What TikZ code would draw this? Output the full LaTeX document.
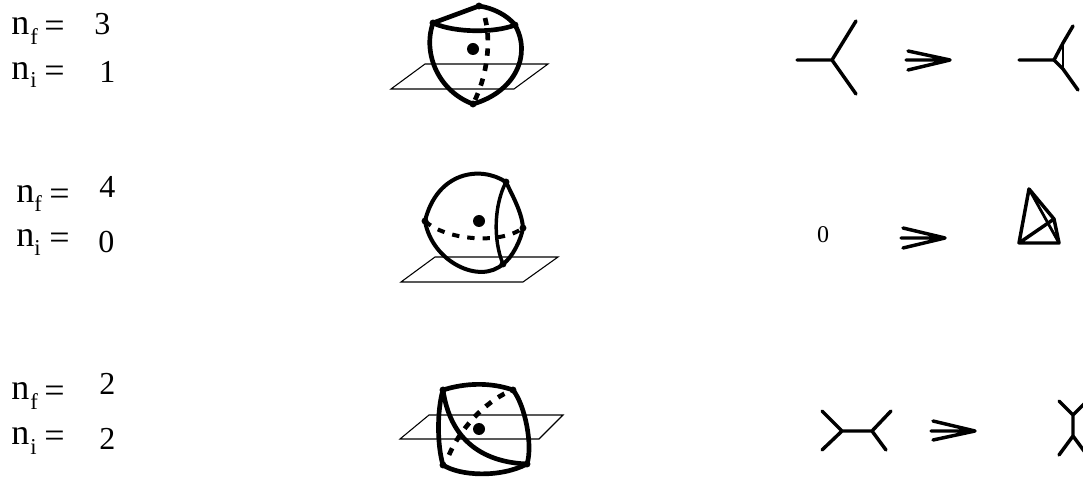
\documentclass[tikz,border=0pt]{standalone}
\usepackage{fontspec}
\setmainfont{Liberation Serif}
\tikzset{
  x=0.75pt,y=-0.75pt,
  lab/.style={anchor=base west,inner sep=0pt,font=\fontsize{27}{30}\selectfont},
  digit/.style={anchor=base west,inner sep=0pt,font=\fontsize{24}{27}\selectfont},
  sublab/.style={anchor=base west,inner sep=0pt,font=\fontsize{17}{19}\selectfont},
  arc/.style={line width=3.5pt,line cap=round,line join=round},
  darc/.style={line width=3.5pt,dash pattern=on 5.5pt off 6pt},
  inner/.style={line width=2.6pt,line cap=round},
  plane/.style={line width=0.8pt,line join=miter},
  edge/.style={line width=2.6pt,line cap=round,line join=round},
  edgethin/.style={line width=2.1pt,line cap=round,line join=round},
  vtx/.style={fill=black},
}
\begin{document}
\begin{tikzpicture}
\useasboundingbox (0,0) rectangle (1083,477);
\clip (0,0) rectangle (1083,477);
% labels
\node[lab] (nf1) at (11,35) {n};
\node[sublab] (fs1) at (30,45) {f};
\node[lab] (ef1) at (44,38) {=};
\node[digit] (vf1) at (94,35) {3};
\node[lab] (ni1) at (11,80) {n};
\node[sublab] (is1) at (30,88) {i};
\node[lab] (ei1) at (44,83) {=};
\node[digit] (vi1) at (99,83) {1};

\node[lab] (nf2) at (16,203) {n};
\node[sublab] (fs2) at (34,212) {f};
\node[lab] (ef2) at (49,206) {=};
\node[digit] (vf2) at (99,198) {4};
\node[lab] (ni2) at (16,247) {n};
\node[sublab] (is2) at (34,256) {i};
\node[lab] (ei2) at (49,250) {=};
\node[digit] (vi2) at (98,253) {0};

\node[lab] (nf3) at (11,400) {n};
\node[sublab] (fs3) at (30,410) {f};
\node[lab] (ef3) at (44,403) {=};
\node[digit] (vf3) at (99,395) {2};
\node[lab] (ni3) at (11,445) {n};
\node[sublab] (is3) at (30,455) {i};
\node[lab] (ei3) at (44,448) {=};
\node[digit] (vi3) at (99,450) {2};

% sphere 1
\draw[plane] (425,64) -- (548,64) -- (514,89) -- (391,89) -- cycle;
\coordinate (a1) at (433,23); \coordinate (b1) at (479,6);
\coordinate (c1) at (515,25); \coordinate (d1) at (473,104);
\draw[arc] (a1) -- (b1);
\draw[arc] (b1) .. controls (493,8) and (507,15) .. (c1);
\draw[arc] (a1) .. controls (455,33) and (495,33) .. (c1);
\draw[arc] (a1) .. controls (422,55) and (440,92) .. (d1);
\draw[arc] (c1) .. controls (532,55) and (515,92) .. (d1);
\draw[darc] (485,18) .. controls (491,40) and (488,75) .. (d1);
\foreach \p in {a1,b1,c1,d1} \fill[vtx] (\p) circle (2.6pt);
\fill[vtx] (473,49) circle (4.5pt);

% sphere 2
\draw[plane] (435,257) -- (558,257) -- (523,282) -- (401,282) -- cycle;
\coordinate (a2) at (506,182); \coordinate (b2) at (425,221);
\coordinate (c2) at (523,228); \coordinate (d2) at (503,264);
\draw[arc,line width=3pt] (b2) .. controls (437,172) and (480,165) .. (a2);
\draw[arc,line width=3pt] (a2) .. controls (512,195) and (522,212) .. (c2);
\draw[arc,line width=3pt] (b2) .. controls (432,262) and (480,285) .. (d2);
\draw[arc,line width=3pt] (c2) .. controls (521,240) and (512,258) .. (d2);
\draw[inner] (a2) .. controls (494,205) and (493,240) .. (d2);
\draw[darc,line width=3pt] (b2) .. controls (445,240) and (500,245) .. (c2);
\foreach \p in {a2,b2,c2,d2} \fill[vtx] (\p) circle (2.6pt);
\fill[vtx] (479,221) circle (4.5pt);

% sphere 3
\draw[plane] (429,415) -- (563,415) -- (539,439) -- (400,439) -- cycle;
\coordinate (a3) at (443,390); \coordinate (b3) at (513,390);
\coordinate (c3) at (527,464); \coordinate (d3) at (443,465);
\draw[arc] (a3) .. controls (465,383) and (490,382) .. (b3);
\draw[arc] (b3) .. controls (525,405) and (533,445) .. (c3);
\draw[arc] (d3) .. controls (460,476) and (500,478) .. (c3);
\draw[arc] (a3) .. controls (437,410) and (437,445) .. (d3);
\draw[arc] (a3) .. controls (450,438) and (480,462) .. (c3);
\draw[darc,dash phase=4.5pt] (b3) .. controls (490,398) and (462,425) .. (449,455);
\foreach \p in {a3,b3,c3,d3} \fill[vtx] (\p) circle (2.6pt);
\fill[vtx] (479,429) circle (4.5pt);

% row 1 diagrams
\coordinate (p1) at (832,60);
\draw[edge] (797,60) -- (p1) (856,21) -- (p1) -- (856,94);
\draw[edge] (906,60) -- (950,60) -- (908,51) (950,60) -- (908,70);
\coordinate (q1) at (1054,60);
\coordinate (q2) at (1063,43);
\coordinate (q3) at (1063,69);
\draw[edge] (1019,60) -- (q1) -- (q2) -- (1073,26);
\draw[edge] (q1) -- (q3) -- (1078,90);
\draw[edgethin] (q2) -- (q3);

% row 2 diagrams
\node[inner sep=0pt,font=\fontsize{18}{20}\selectfont] (zero) at (823,235) {0};
\draw[edge] (901,238) -- (945,238) -- (903,228) (945,238) -- (903,248);
\coordinate (t) at (1029,189);
\coordinate (l) at (1019,243);
\coordinate (r) at (1059,243);
\coordinate (m) at (1054,219);
\draw[edge] (l) -- (t) -- (m) -- (r) -- (l) -- (m);
\draw[edgethin] (t) -- (r);

% row 3 diagrams
\coordinate (u1) at (842,431);
\coordinate (u2) at (872,431);
\draw[edge] (822,411) -- (u1) -- (822,450) (u1) -- (u2) (891,411) -- (u2) -- (886,450);
\draw[edge] (931,431) -- (975,431) -- (933,421) (975,431) -- (933,440);
\coordinate (v1) at (1073,415);
\coordinate (v2) at (1073,436);
\draw[edge] (1059,401) -- (v1) -- (1087,401) (v1) -- (v2) (1059,455) -- (v2) -- (1087,455);
\end{tikzpicture}
\end{document}
